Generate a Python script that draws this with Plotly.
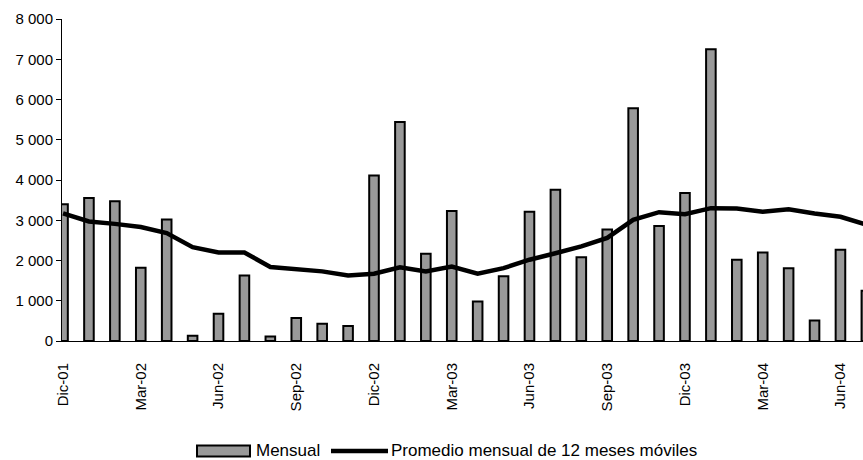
import plotly.graph_objects as go

# Monthly series, Dic-01 .. Jul-04
months = [
    "Dic-01", "Ene-02", "Feb-02", "Mar-02", "Abr-02", "May-02", "Jun-02", "Jul-02",
    "Ago-02", "Sep-02", "Oct-02", "Nov-02", "Dic-02", "Ene-03", "Feb-03", "Mar-03",
    "Abr-03", "May-03", "Jun-03", "Jul-03", "Ago-03", "Sep-03", "Oct-03", "Nov-03",
    "Dic-03", "Ene-04", "Feb-04", "Mar-04", "Abr-04", "May-04", "Jun-04", "Jul-04",
]
mensual = [
    3400, 3550, 3470, 1820, 3020, 130, 680, 1630,
    110, 570, 430, 370, 4110, 5440, 2170, 3230,
    980, 1610, 3210, 3760, 2080, 2770, 5780, 2860,
    3680, 7250, 2020, 2200, 1810, 510, 2270, 1250,
]
promedio_12m = [
    3170, 2970, 2910, 2830, 2680, 2330, 2200, 2200,
    1840, 1780, 1730, 1630, 1670, 1830, 1730, 1850,
    1670, 1810, 2020, 2180, 2350, 2560, 3010, 3200,
    3150, 3300, 3290, 3210, 3270, 3170, 3085, 2890,
]
tick_labels = ["Dic-01", "Mar-02", "Jun-02", "Sep-02", "Dic-02", "Mar-03",
               "Jun-03", "Sep-03", "Dic-03", "Mar-04", "Jun-04"]

FONT = "Liberation Sans"
W, H = 863, 460
L, R, T, B = 62, 0, 19, 119
PW, PH = W - L - R, H - T - B

fig = go.Figure()
fig.add_trace(go.Bar(
    x=months, y=mensual, name="Mensual", width=0.37,
    marker=dict(color="#999999", line=dict(color="black", width=2)),
    showlegend=False,
))
fig.add_trace(go.Scatter(
    x=months, y=promedio_12m, name="Promedio mensual de 12 meses móviles",
    mode="lines", line=dict(color="black", width=4.5),
    showlegend=False,
))

fig.update_layout(
    width=W, height=H,
    margin=dict(l=L, r=R, t=T, b=B, pad=0),
    paper_bgcolor="white", plot_bgcolor="white",
    separators=", ",
    font=dict(family=FONT, color="black", size=15),
    xaxis=dict(
        type="category", range=[-0.04, 30.87],
        tickmode="array", tickvals=tick_labels, ticktext=tick_labels,
        tickangle=-90, tickfont=dict(size=15, family=FONT),
        ticks="outside", ticklen=15, tickcolor="rgba(0,0,0,0)",
        showline=True, linecolor="black", linewidth=1,
        showgrid=False, zeroline=False,
    ),
    yaxis=dict(
        range=[0, 8000], tickvals=list(range(0, 8001, 1000)), tickformat=",d",
        tickfont=dict(size=15, family=FONT),
        ticks="outside", ticklen=5, tickcolor="black", tickwidth=1,
        showline=True, linecolor="black", linewidth=1,
        showgrid=False, zeroline=False,
    ),
)

# Legend drawn below the plot area (pixel positions converted to paper units)
def px(xp):
    return (xp - L) / PW

def py(yp):
    return (H - B - yp) / PH

fig.add_shape(type="rect", xref="paper", yref="paper",
              x0=px(197), x1=px(250), y0=py(456.5), y1=py(445.5),
              fillcolor="#999999", line=dict(color="black", width=2))
fig.add_shape(type="line", xref="paper", yref="paper",
              x0=px(331), x1=px(388), y0=py(451), y1=py(451),
              line=dict(color="black", width=4.5))
fig.add_annotation(text="Mensual", xref="paper", yref="paper",
                   x=px(254), y=py(451), xanchor="left", yanchor="middle",
                   showarrow=False, font=dict(size=17, family=FONT, color="black"))
fig.add_annotation(text="Promedio mensual de 12 meses móviles", xref="paper", yref="paper",
                   x=px(389), y=py(451), xanchor="left", yanchor="middle",
                   showarrow=False, font=dict(size=17, family=FONT, color="black"))

fig.write_html("out.html")
